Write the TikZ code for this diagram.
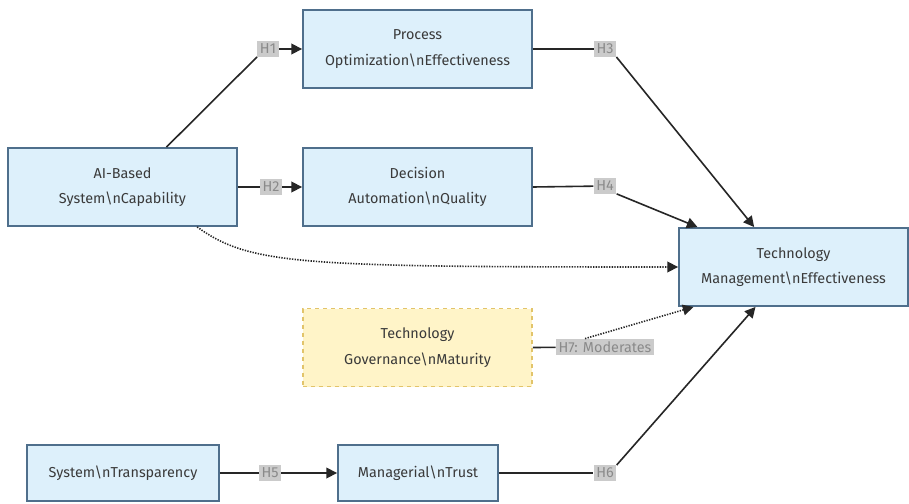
\documentclass[tikz,border=0pt]{standalone}
\usepackage{fontspec}
\setmainfont{Fira Sans}
\usetikzlibrary{arrows.meta,calc}
\definecolor{boxfill}{HTML}{DDF0FB}
\definecolor{boxdraw}{HTML}{4F6F8C}
\definecolor{modfill}{HTML}{FFF4C8}
\definecolor{moddraw}{HTML}{E2C46A}
\definecolor{tagfill}{HTML}{CBCBCB}
\definecolor{tagtext}{HTML}{8A8A8A}
\definecolor{ink}{HTML}{3A3A3A}
\begin{document}
\begin{tikzpicture}[x=0.75pt,y=-0.75pt,
  construct/.style={draw=boxdraw,fill=boxfill,line width=1.4pt,
    minimum width=171.75pt,minimum height=58.5pt,align=center,
    text=ink,font=\fontsize{10.8}{19}\selectfont,inner sep=2pt},
  smallbox/.style={construct,minimum height=42pt},
  moderator/.style={construct,draw=moddraw,fill=modfill,dashed,
    dash pattern=on 3pt off 3pt},
  tag/.style={fill=tagfill,text=tagtext,inner sep=2pt,
    font=\fontsize{10.8}{12}\selectfont},
  link/.style={draw=black!85,line width=1.2pt},
  arr/.style={link,-{Triangle[length=8pt,width=8pt]}},
  dottedarr/.style={arr,dash pattern=on 1pt off 1pt}]
\useasboundingbox (0,0) rectangle (909,503);
\fill[white] (0,0) rectangle (909,503);

% constructs
\node[construct] (ai) at (122.5,187) {AI-Based\\System\textbackslash nCapability};
\node[construct] (proc) at (417.5,49) {Process\\Optimization\textbackslash nEffectiveness};
\node[construct] (dec) at (417.5,187) {Decision\\Automation\textbackslash nQuality};
\node[construct] (tme) at (793.5,267) {Technology\\Management\textbackslash nEffectiveness};
\node[moderator] (gov) at (417.5,347.5) {Technology\\Governance\textbackslash nMaturity};
\node[smallbox,minimum width=144pt] (trans) at (123,473) {System\textbackslash nTransparency};
\node[smallbox,minimum width=120pt] (trust) at (418,473) {Managerial\textbackslash nTrust};

% hypothesis tags
\node[tag] (h1) at (268,49) {H1};
\node[tag] (h2) at (271,187) {H2};
\node[tag] (h3) at (605,49) {H3};
\node[tag] (h4) at (605,186) {H4};
\node[tag] (h5) at (270,473) {H5};
\node[tag] (h6) at (605,473) {H6};
\node[tag] (h7) at (605,347) {H7: Moderates};

% paths
\draw[link] ([xshift=33pt]ai.north) -- (h1.south west);
\draw[arr] (h1) -- (proc.west);
\draw[link] (ai.east) -- (h2);
\draw[arr] (h2) -- (dec.west);
\draw[link] (proc.east) -- (h3);
\draw[arr] (h3.south east) -- ([xshift=-29.5pt]tme.north);
\draw[link] (dec.east) -- (h4);
\draw[arr] (h4.south east) -- ([xshift=-72pt]tme.north);
\draw[link] (trans.east) -- (h5);
\draw[arr] (h5) -- (trust.west);
\draw[link] (trust.east) -- (h6);
\draw[arr] (h6.north east) -- ([xshift=-28.5pt]tme.south);
\draw[link] (gov.east) -- (h7);
\draw[dottedarr] ([xshift=-15pt]h7.north) -- ([xshift=-75pt]tme.south);
\draw[dottedarr] ([xshift=56pt]ai.south) .. controls (250,265) and (300,267) .. (tme.west);
\end{tikzpicture}
\end{document}
